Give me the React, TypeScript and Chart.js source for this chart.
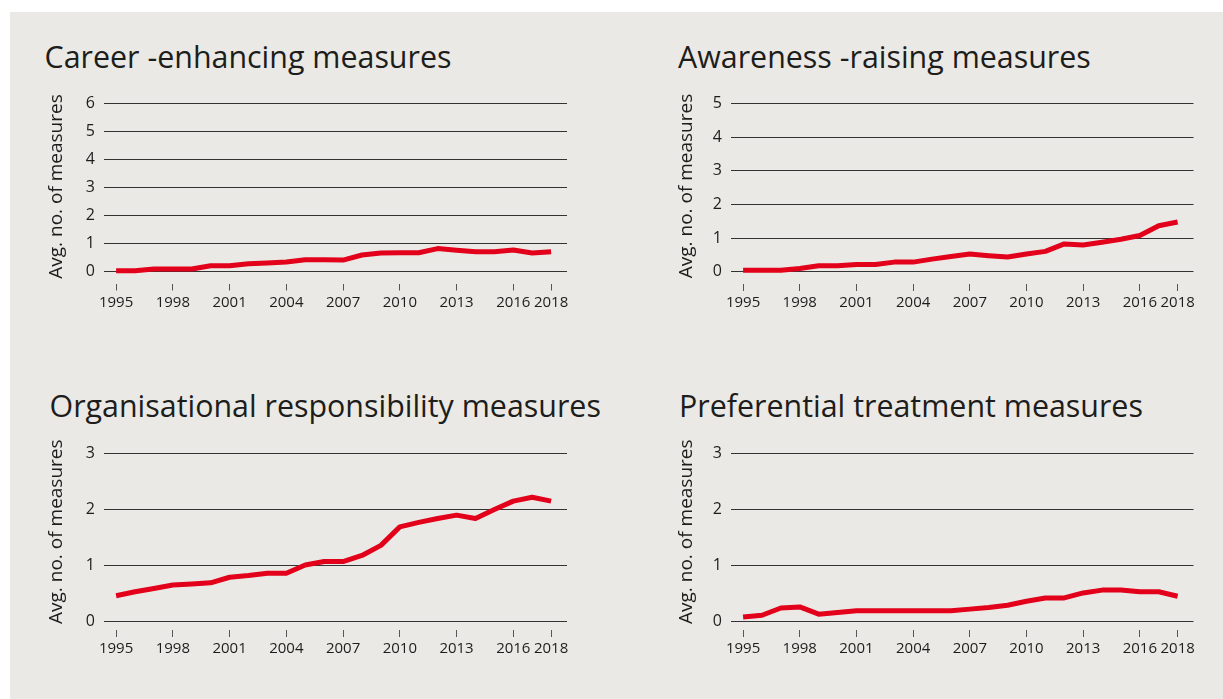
import React, { useEffect, useRef } from "react";
import { Chart, registerables } from "chart.js";

Chart.register(...registerables);

// ---------- data ----------
const years = [
  1995, 1996, 1997, 1998, 1999, 2000, 2001, 2002, 2003, 2004, 2005, 2006,
  2007, 2008, 2009, 2010, 2011, 2012, 2013, 2014, 2015, 2016, 2017, 2018,
];
const xTickYears = [1995, 1998, 2001, 2004, 2007, 2010, 2013, 2016, 2018];

const careerValues = [
  0.04, 0.04, 0.1, 0.1, 0.1, 0.22, 0.22, 0.29, 0.32, 0.35, 0.43, 0.43,
  0.42, 0.6, 0.67, 0.68, 0.68, 0.83, 0.77, 0.72, 0.72, 0.78, 0.67, 0.72,
];
const awarenessValues = [
  0.05, 0.05, 0.05, 0.1, 0.18, 0.18, 0.22, 0.22, 0.29, 0.29, 0.38, 0.46,
  0.53, 0.48, 0.44, 0.53, 0.61, 0.83, 0.8, 0.88, 0.97, 1.08, 1.37, 1.48,
];
const organisationalValues = [
  0.46, 0.53, 0.59, 0.65, 0.67, 0.69, 0.79, 0.82, 0.86, 0.86, 1.01, 1.07,
  1.07, 1.18, 1.36, 1.69, 1.77, 1.84, 1.9, 1.84, 2.0, 2.15, 2.22, 2.15,
];
const preferentialValues = [
  0.08, 0.11, 0.24, 0.26, 0.13, 0.16, 0.19, 0.19, 0.19, 0.19, 0.19, 0.19,
  0.22, 0.25, 0.29, 0.36, 0.42, 0.42, 0.51, 0.56, 0.56, 0.53, 0.53, 0.45,
];

const careerTicks = [0, 1, 2, 3, 4, 5, 6];
const awarenessTicks = [0, 1, 2, 3, 4, 5];
const organisationalTicks = [0, 1, 2, 3];
const preferentialTicks = [0, 1, 2, 3];

const chartTitles = [
  "Career -enhancing measures",
  "Awareness -raising measures",
  "Organisational responsibility measures",
  "Preferential treatment measures",
];
const yAxisTitle = "Avg. no. of measures";

// ---------- style ----------
const FONT = '"Open Sans", "DejaVu Sans", sans-serif';
const TEXT = "#1d1d1b";
const RED = "#e2001a";
const GRID = "#333333";
const PANEL_BG = "#ebe9e5";
const X_MIN = 1994.36;
const X_MAX = 2018.84;

type Rect = { x: number; y: number; w: number; h: number };
type Area = { l: number; t: number; r: number; b: number };
type PanelCfg = {
  title: string;
  values: number[];
  ticks: number[];
  yMin: number;
  canvas: Rect;
  area: Area;
  titlePos: { x: number; y: number };
  axisTitle: { x: number; y: number };
};

const panels: PanelCfg[] = [
  {
    title: chartTitles[0],
    values: careerValues,
    ticks: careerTicks,
    yMin: -0.415,
    canvas: { x: 10, y: 85, w: 590, h: 250 },
    area: { l: 104, t: 101, r: 567, b: 283.5 },
    titlePos: { x: 44.5, y: 42 },
    axisTitle: { x: 61.5, y: 186.5 },
  },
  {
    title: chartTitles[1],
    values: awarenessValues,
    ticks: awarenessTicks,
    yMin: -0.36,
    canvas: { x: 610, y: 85, w: 613, h: 250 },
    area: { l: 731, t: 101, r: 1193.5, b: 284 },
    titlePos: { x: 678, y: 42 },
    axisTitle: { x: 691.5, y: 186 },
  },
  {
    title: chartTitles[2],
    values: organisationalValues,
    ticks: organisationalTicks,
    yMin: -0.153,
    canvas: { x: 10, y: 435, w: 590, h: 250 },
    area: { l: 104, t: 451, r: 567, b: 630 },
    titlePos: { x: 49.5, y: 391 },
    axisTitle: { x: 61.5, y: 531.7 },
  },
  {
    title: chartTitles[3],
    values: preferentialValues,
    ticks: preferentialTicks,
    yMin: -0.153,
    canvas: { x: 610, y: 435, w: 613, h: 250 },
    area: { l: 731, t: 451, r: 1193.5, b: 630 },
    titlePos: { x: 679, y: 391 },
    axisTitle: { x: 691.5, y: 531.7 },
  },
];

function Panel({ cfg }: { cfg: PanelCfg }) {
  const ref = useRef<HTMLCanvasElement>(null);
  useEffect(() => {
    const c = cfg.canvas;
    const a = cfg.area;
    const canvas = ref.current!;
    const yMax = cfg.ticks[cfg.ticks.length - 1];
    const chart = new Chart(canvas, {
      type: "line",
      data: {
        datasets: [
          {
            data: years.map((yr, i) => ({ x: yr, y: cfg.values[i] })),
            borderColor: RED,
            backgroundColor: RED,
            borderWidth: 5,
            pointRadius: 0,
            tension: 0,
            borderJoinStyle: "round",
            borderCapStyle: "butt",
            fill: false,
          },
        ],
      },
      options: {
        animation: false,
        responsive: false,
        maintainAspectRatio: false,
        events: [],
        layout: {
          autoPadding: false,
          padding: {
            left: 0,
            top: a.t - c.y,
            right: c.x + c.w - a.r,
            bottom: 0,
          },
        },
        plugins: {
          legend: { display: false },
          tooltip: { enabled: false },
          title: { display: false },
        },
        scales: {
          x: {
            type: "linear",
            min: X_MIN,
            max: X_MAX,
            afterBuildTicks: (s: any) => {
              s.ticks = xTickYears.map((v) => ({ value: v }));
            },
            afterFit: (s: any) => {
              s.height = c.y + c.h - a.b;
            },
            grid: {
              display: true,
              drawOnChartArea: false,
              drawTicks: true,
              tickLength: 7,
              color: "#555555",
              lineWidth: 1,
            },
            border: { display: false },
            ticks: {
              autoSkip: false,
              maxRotation: 0,
              minRotation: 0,
              padding: 3,
              color: TEXT,
              font: { family: FONT, size: 15 },
              callback: (v: any) => String(v),
            },
          },
          y: {
            type: "linear",
            min: cfg.yMin,
            max: yMax,
            afterBuildTicks: (s: any) => {
              s.ticks = cfg.ticks.map((v) => ({ value: v }));
            },
            afterFit: (s: any) => {
              s.width = a.l - c.x;
            },
            grid: { color: GRID, lineWidth: 1, drawTicks: false },
            border: { display: false },
            ticks: {
              padding: 9,
              color: TEXT,
              font: { family: FONT, size: 16 },
              callback: (v: any) => String(v),
            },
          },
        },
      } as any,
      plugins: [
        {
          id: "yAxisTitle",
          afterDraw(ch: any) {
            const ctx = ch.ctx as CanvasRenderingContext2D;
            ctx.save();
            ctx.translate(cfg.axisTitle.x - c.x, cfg.axisTitle.y - c.y);
            ctx.rotate(-Math.PI / 2);
            ctx.font = `19px ${FONT}`;
            ctx.fillStyle = TEXT;
            ctx.textAlign = "center";
            ctx.textBaseline = "alphabetic";
            ctx.fillText(yAxisTitle, 0, 0);
            ctx.restore();
          },
        },
      ],
    });
    let alive = true;
    if ((document as any).fonts && (document as any).fonts.ready) {
      (document as any).fonts.ready.then(() => {
        if (alive) chart.update();
      });
    }
    return () => {
      alive = false;
      chart.destroy();
    };
  }, [cfg]);

  return (
    <>
      <div
        style={{
          position: "absolute",
          left: cfg.titlePos.x,
          top: cfg.titlePos.y,
          fontFamily: FONT,
          fontSize: 30.4,
          lineHeight: "30px",
          color: TEXT,
          whiteSpace: "nowrap",
        }}
      >
        {cfg.title}
      </div>
      <canvas
        ref={ref}
        width={cfg.canvas.w}
        height={cfg.canvas.h}
        style={{
          position: "absolute",
          left: cfg.canvas.x,
          top: cfg.canvas.y,
          width: cfg.canvas.w,
          height: cfg.canvas.h,
        }}
      />
    </>
  );
}

export default function App() {
  return (
    <div
      style={{
        position: "absolute",
        left: 0,
        top: 0,
        width: 1223,
        height: 699,
        background: "#ffffff",
        overflow: "hidden",
      }}
    >
      <div
        style={{
          position: "absolute",
          left: 10,
          top: 12,
          width: 1213,
          height: 687,
          background: PANEL_BG,
        }}
      />
      {panels.map((p, i) => (
        <Panel key={i} cfg={p} />
      ))}
    </div>
  );
}
